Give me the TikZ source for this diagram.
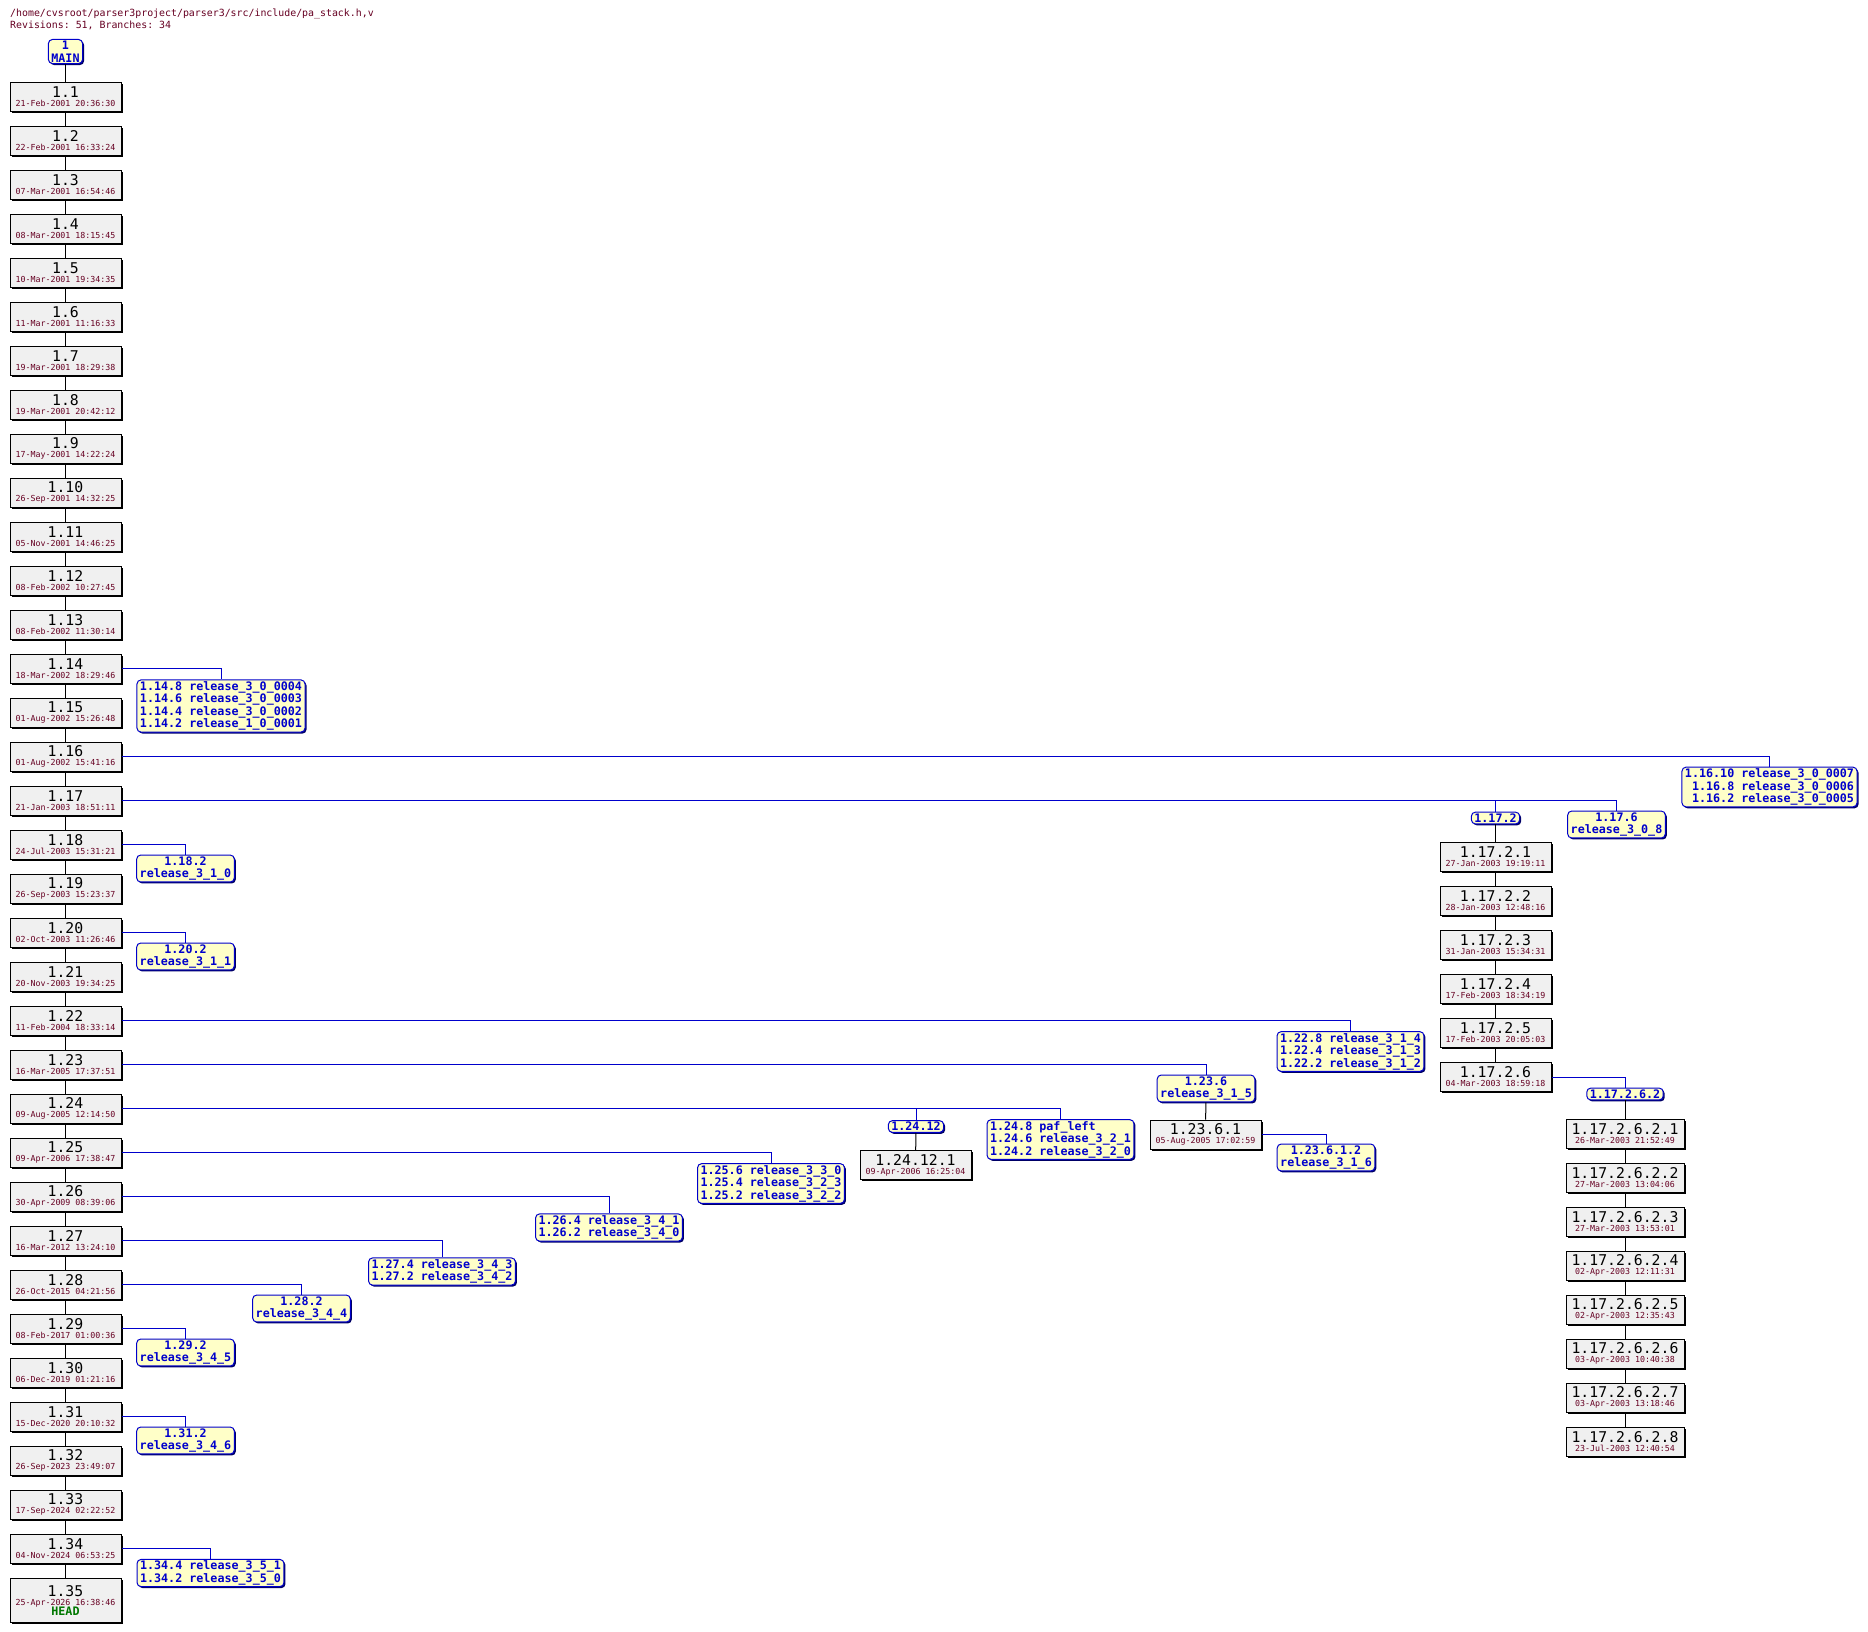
\documentclass[tikz,border=0pt]{standalone}
\usepackage{fontspec}
\setmonofont{DejaVu Sans Mono}
\usetikzlibrary{shadows}

\definecolor{revfill}{HTML}{F0F0F0}
\definecolor{tagfill}{HTML}{FFFFC8}
\definecolor{tagblue}{HTML}{0000CC}
\definecolor{datered}{HTML}{660022}
\definecolor{headgreen}{HTML}{007700}

\newcommand{\revno}[1]{{\fontsize{14.8}{15}\selectfont #1}}
\newcommand{\revdate}[1]{{\fontsize{8.3}{9}\selectfont\color{datered}#1}}

\tikzset{
  rev/.style = {draw, fill = revfill, line width = 1pt, font = \ttfamily,
    minimum width = 111pt, minimum height = 29pt, inner sep = 1pt,
    align = center,
    drop shadow = {shadow xshift = 1.5pt, shadow yshift = -1.5pt,
      fill = black, opacity = 1}},
  tag/.style = {draw = tagblue, fill = tagfill, line width = 1pt,
    rounded corners = 4pt, text = tagblue, align = center,
    font = \ttfamily\bfseries\fontsize{11.7}{12.5}\selectfont,
    inner xsep = 3pt, inner ysep = 1.5pt,
    drop shadow = {shadow xshift = 1.5pt, shadow yshift = -1.5pt,
      fill = blue!40!black, opacity = 1}},
  trunk/.style = {line width = 1pt},
  branch/.style = {draw = tagblue, line width = 1pt}
}

\begin{document}
\begin{tikzpicture}[x = 1pt, y = -1pt]
\useasboundingbox (0,0) rectangle (1868,1631);

% header
\node[anchor = west, inner sep = 0, text = datered,
  font = \ttfamily\fontsize{9.9}{12}\selectfont, align = left] (hdr) at (10,19)
  {/home/cvsroot/parser3project/parser3/src/include/pa\_stack.h,v\\
   Revisions: 51, Branches: 34};

\node[tag] (n0) at (65.5,51.5) {1\\MAIN};

% trunk
\foreach \n/\d in {
  1/21-Feb-2001 20:36:30, 2/22-Feb-2001 16:33:24, 3/07-Mar-2001 16:54:46,
  4/08-Mar-2001 18:15:45, 5/10-Mar-2001 19:34:35, 6/11-Mar-2001 11:16:33,
  7/19-Mar-2001 18:29:38, 8/19-Mar-2001 20:42:12, 9/17-May-2001 14:22:24,
  10/26-Sep-2001 14:32:25, 11/05-Nov-2001 14:46:25, 12/08-Feb-2002 10:27:45,
  13/08-Feb-2002 11:30:14, 14/18-Mar-2002 18:29:46, 15/01-Aug-2002 15:26:48,
  16/01-Aug-2002 15:41:16, 17/21-Jan-2003 18:51:11, 18/24-Jul-2003 15:31:21,
  19/26-Sep-2003 15:23:37, 20/02-Oct-2003 11:26:46, 21/20-Nov-2003 19:34:25,
  22/11-Feb-2004 18:33:14, 23/16-Mar-2005 17:37:51, 24/09-Aug-2005 12:14:50,
  25/09-Apr-2006 17:38:47, 26/30-Apr-2009 08:39:06, 27/16-Mar-2012 13:24:10,
  28/26-Oct-2015 04:21:56, 29/08-Feb-2017 01:00:36, 30/06-Dec-2019 01:21:16,
  31/15-Dec-2020 20:10:32, 32/26-Sep-2023 23:49:07, 33/17-Sep-2024 02:22:52,
  34/04-Nov-2024 06:53:25}
  \node[rev] (n\n) at (65.5,{96.5+44*(\n-1)}) {\revno{1.\n}\\[-3pt]\revdate{\d}};
\node[rev, minimum height = 44pt] (n35) at (65.5,1600)
  {\revno{1.35}\\[-3pt]\revdate{25-Apr-2026 16:38:46}\\[-2pt]
   {\bfseries\color{headgreen}\fontsize{11.7}{12}\selectfont HEAD}};
\draw[trunk] (n0) -- (n1);
\foreach \n [count = \m from 2] in {1,...,34}
  \draw[trunk] (n\n) -- (n\m);

% symbolic tags off the trunk
\node[tag, align = left] (t14) at (221,706) {1.14.8 release\_3\_0\_0004\\1.14.6 release\_3\_0\_0003\\1.14.4 release\_3\_0\_0002\\1.14.2 release\_1\_0\_0001};
\node[tag, align = right] (t16) at (1769.5,787) {1.16.10 release\_3\_0\_0007\\1.16.8 release\_3\_0\_0006\\1.16.2 release\_3\_0\_0005};
\node[tag] (t17) at (1616.5,824.5) {1.17.6\\release\_3\_0\_8};
\node[tag] (t18) at (185.5,868.5) {1.18.2\\release\_3\_1\_0};
\node[tag] (t20) at (185.5,956.5) {1.20.2\\release\_3\_1\_1};
\node[tag, align = left] (t22) at (1350.5,1051.5) {1.22.8 release\_3\_1\_4\\1.22.4 release\_3\_1\_3\\1.22.2 release\_3\_1\_2};
\node[tag] (t23) at (1206,1088.5) {1.23.6\\release\_3\_1\_5};
\node[tag, align = left] (t24) at (1060.5,1139.5) {1.24.8 paf\_left\\1.24.6 release\_3\_2\_1\\1.24.2 release\_3\_2\_0};
\node[tag, align = left] (t25) at (771,1183.5) {1.25.6 release\_3\_3\_0\\1.25.4 release\_3\_2\_3\\1.25.2 release\_3\_2\_2};
\node[tag, align = left] (t26) at (609,1227.5) {1.26.4 release\_3\_4\_1\\1.26.2 release\_3\_4\_0};
\node[tag, align = left] (t27) at (442,1271.5) {1.27.4 release\_3\_4\_3\\1.27.2 release\_3\_4\_2};
\node[tag] (t28) at (301.5,1308.5) {1.28.2\\release\_3\_4\_4};
\node[tag] (t29) at (185.5,1352.5) {1.29.2\\release\_3\_4\_5};
\node[tag] (t31) at (185.5,1440.5) {1.31.2\\release\_3\_4\_6};
\node[tag, align = left] (t34) at (210.5,1573) {1.34.4 release\_3\_5\_1\\1.34.2 release\_3\_5\_0};
\foreach \n in {14,16,17,18,20,22,23,24,25,26,27,28,29,31,34}
  \draw[branch] (n\n.east) -| (t\n.north);

% branch 1.17.2
\node[tag] (b172) at (1495.5,818) {1.17.2};
\draw[branch] (n17.east) -| (b172.north);
\foreach \k/\d in {1/27-Jan-2003 19:19:11, 2/28-Jan-2003 12:48:16,
  3/31-Jan-2003 15:34:31, 4/17-Feb-2003 18:34:19, 5/17-Feb-2003 20:05:03,
  6/04-Mar-2003 18:59:18}
  \node[rev] (a\k) at (1495.5,{857+44*(\k-1)}) {\revno{1.17.2.\k}\\[-3pt]\revdate{\d}};
\draw[trunk] (b172) -- (a1);
\foreach \k [count = \m from 2] in {1,...,5}
  \draw[trunk] (a\k) -- (a\m);

% branch 1.17.2.6.2
\node[tag] (b17262) at (1625,1094) {1.17.2.6.2};
\draw[branch] (a6.east) -| (b17262.north);
\foreach \k/\d in {1/26-Mar-2003 21:52:49, 2/27-Mar-2003 13:04:06,
  3/27-Mar-2003 13:53:01, 4/02-Apr-2003 12:11:31, 5/02-Apr-2003 12:35:43,
  6/03-Apr-2003 10:40:38, 7/03-Apr-2003 13:18:46, 8/23-Jul-2003 12:40:54}
  \node[rev, minimum width = 118pt] (s\k) at (1625,{1133.5+44*(\k-1)}) {\revno{1.17.2.6.2.\k}\\[-3pt]\revdate{\d}};
\draw[trunk] (b17262) -- (s1);
\foreach \k [count = \m from 2] in {1,...,7}
  \draw[trunk] (s\k) -- (s\m);

% branch 1.23.6
\node[rev] (c1) at (1205.5,1134.5) {\revno{1.23.6.1}\\[-3pt]\revdate{05-Aug-2005 17:02:59}};
\draw[trunk] (t23) -- (c1);
\node[tag] (t2361) at (1326,1157.5) {1.23.6.1.2\\release\_3\_1\_6};
\draw[branch] (c1.east) -| (t2361.north);

% branch 1.24.12
\node[tag] (b2412) at (916,1126.5) {1.24.12};
\draw[branch] (n24.east) -| (b2412.north);
\node[rev] (d1) at (915.5,1165) {\revno{1.24.12.1}\\[-3pt]\revdate{09-Apr-2006 16:25:04}};
\draw[trunk] (b2412) -- (d1);
\end{tikzpicture}
\end{document}
